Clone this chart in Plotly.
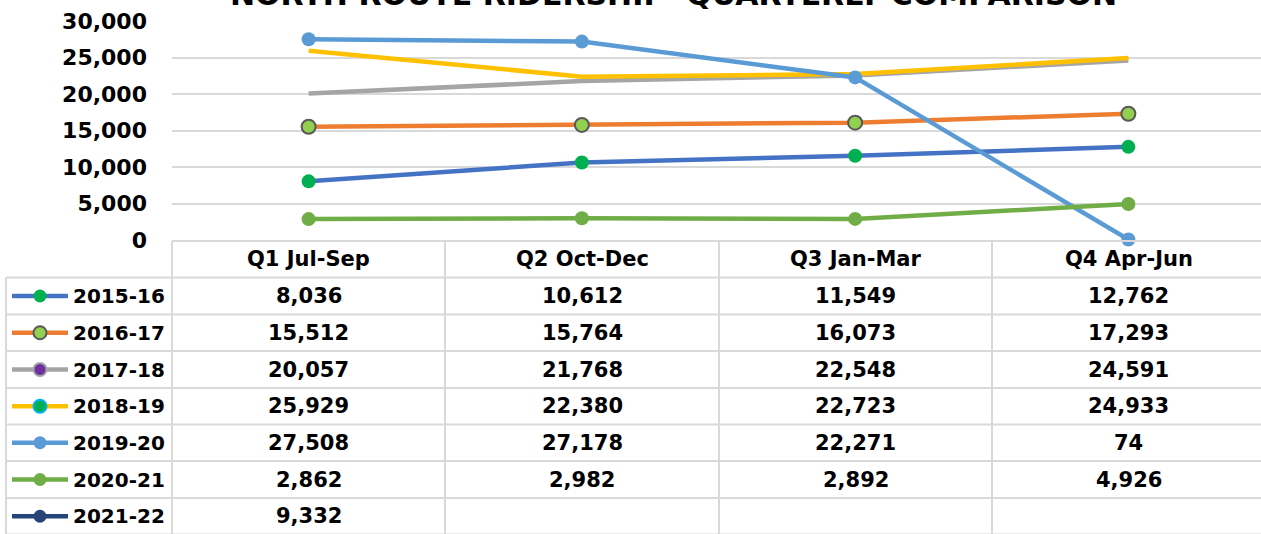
import plotly.graph_objects as go

categories = ["Q1 Jul-Sep", "Q2 Oct-Dec", "Q3 Jan-Mar", "Q4 Apr-Jun"]
series_names = ["2015-16", "2016-17", "2017-18", "2018-19", "2019-20", "2020-21", "2021-22"]
v2015 = [8036, 10612, 11549, 12762]
v2016 = [15512, 15764, 16073, 17293]
v2017 = [20057, 21768, 22548, 24591]
v2018 = [25929, 22380, 22723, 24933]
v2019 = [27508, 27178, 22271, 74]
v2020 = [2862, 2982, 2892, 4926]
v2021 = [9332, None, None, None]
values = [v2015, v2016, v2017, v2018, v2019, v2020, v2021]
y_ticks = [0, 5000, 10000, 15000, 20000, 25000, 30000]

line_colors = ["#4472C4", "#ED7D31", "#A5A5A5", "#FFC000", "#5B9BD5", "#70AD47", "#264478"]
marker_fill = ["#00B050", "#92D050", "#7030A0", "#00B050", "#5B9BD5", "#70AD47", "#264478"]
marker_edge = ["#00B050", "#595959", "#A5A5A5", "#00B0F0", "#5B9BD5", "#70AD47", "#264478"]
marker_edge_w = [0, 2, 2, 2, 0, 0, 0]
show_in_plot = [True, True, True, True, True, True, False]
plot_markers = [True, True, False, False, True, True, True]

W, H = 1261, 534
FONT = "DejaVu Sans"
GRID = "#D9D9D9"

fig = go.Figure()

for i, name in enumerate(series_names):
    if not show_in_plot[i]:
        continue
    fig.add_trace(go.Scatter(
        x=categories, y=values[i], name=name,
        mode="lines+markers" if plot_markers[i] else "lines",
        line=dict(color=line_colors[i], width=4.5),
        marker=dict(size=14, color=marker_fill[i],
                    line=dict(color=marker_edge[i], width=marker_edge_w[i])),
        cliponaxis=False, showlegend=False, xaxis="x", yaxis="y"))

col_edges = [172, 445, 719, 992, 1265]
col_centers = [(col_edges[k] + col_edges[k + 1]) / 2 for k in range(4)]
row_edges = [241, 277.5, 314.5, 351, 388, 424.5, 461, 498, 534.5]
row_centers = [(row_edges[k] + row_edges[k + 1]) / 2 for k in range(len(row_edges) - 1)]

shapes = []
shapes.append(dict(type="line", xref="x2", yref="y2", x0=172, x1=1265, y0=241, y1=241,
                   line=dict(color=GRID, width=2), layer="below"))
for yy in row_edges[1:]:
    shapes.append(dict(type="line", xref="x2", yref="y2", x0=6, x1=1265, y0=yy, y1=yy,
                       line=dict(color=GRID, width=2), layer="below"))
shapes.append(dict(type="line", xref="x2", yref="y2", x0=6, x1=6, y0=277.5, y1=534.5,
                   line=dict(color=GRID, width=2), layer="below"))
for xx in col_edges[:-1]:
    shapes.append(dict(type="line", xref="x2", yref="y2", x0=xx, x1=xx, y0=241, y1=534.5,
                       line=dict(color=GRID, width=2), layer="below"))

annotations = []
annotations.append(dict(xref="x2", yref="y2", x=673, y=14, xanchor="center", yanchor="bottom",
                        text="<b>NORTH ROUTE RIDERSHIP  QUARTERLY COMPARISON</b>",
                        showarrow=False, font=dict(family=FONT, size=30, color="#000000")))
for k, c in enumerate(categories):
    annotations.append(dict(xref="x2", yref="y2", x=col_centers[k], y=row_centers[0],
                            xanchor="center", yanchor="middle", text="<b>%s</b>" % c,
                            showarrow=False, font=dict(family=FONT, size=21, color="#000000")))
for i, name in enumerate(series_names):
    yc = row_centers[i + 1]
    annotations.append(dict(xref="x2", yref="y2", x=71, y=yc, xanchor="left", yanchor="middle",
                            text="<b>%s</b>" % name, showarrow=False,
                            font=dict(family=FONT, size=20, color="#000000")))
    for k in range(4):
        v = values[i][k]
        if v is None:
            continue
        annotations.append(dict(xref="x2", yref="y2", x=col_centers[k], y=yc,
                                xanchor="center", yanchor="middle", text="<b>%s</b>" % f"{v:,}",
                                showarrow=False, font=dict(family=FONT, size=21, color="#000000")))
    fig.add_trace(go.Scatter(x=[12, 68], y=[yc, yc], mode="lines",
                             line=dict(color=line_colors[i], width=4.5),
                             showlegend=False, hoverinfo="skip", xaxis="x2", yaxis="y2"))
    fig.add_trace(go.Scatter(x=[40], y=[yc], mode="markers",
                             marker=dict(size=13, color=marker_fill[i],
                                         line=dict(color=marker_edge[i], width=marker_edge_w[i])),
                             showlegend=False, hoverinfo="skip", xaxis="x2", yaxis="y2"))

px_per_unit = (1265 - 172) / 4.0
x_right = 3.5 - (1265 - W) / px_per_unit

fig.update_layout(
    template="none",
    width=W, height=H, autosize=False,
    margin=dict(l=0, r=0, t=0, b=0, pad=0),
    paper_bgcolor="white", plot_bgcolor="rgba(0,0,0,0)",
    font=dict(family=FONT, color="#000000"),
    xaxis=dict(domain=[172 / W, 1.0], range=[-0.5, x_right], type="category",
               showticklabels=False, showgrid=False, zeroline=False, showline=False, ticks="",
               automargin=False, fixedrange=True),
    yaxis=dict(domain=[1 - 240 / H, 1 - 21 / H], range=[0, 30000], tickvals=y_ticks,
               tickformat=",", showgrid=True, gridcolor=GRID, gridwidth=1.5,
               zeroline=False, showline=False, ticks="", ticklabelstandoff=24,
               automargin=False, fixedrange=True,
               tickfont=dict(family=FONT, size=22, color="#000000", weight="bold")),
    xaxis2=dict(domain=[0, 1], range=[0, W], visible=False, fixedrange=True, automargin=False),
    yaxis2=dict(domain=[0, 1], range=[H, 0], visible=False, fixedrange=True, automargin=False),
    shapes=shapes, annotations=annotations,
)

fig.write_html("out.html", config={"displayModeBar": False},
               post_script="document.body.style.margin='0px';document.body.style.overflow='hidden';")
